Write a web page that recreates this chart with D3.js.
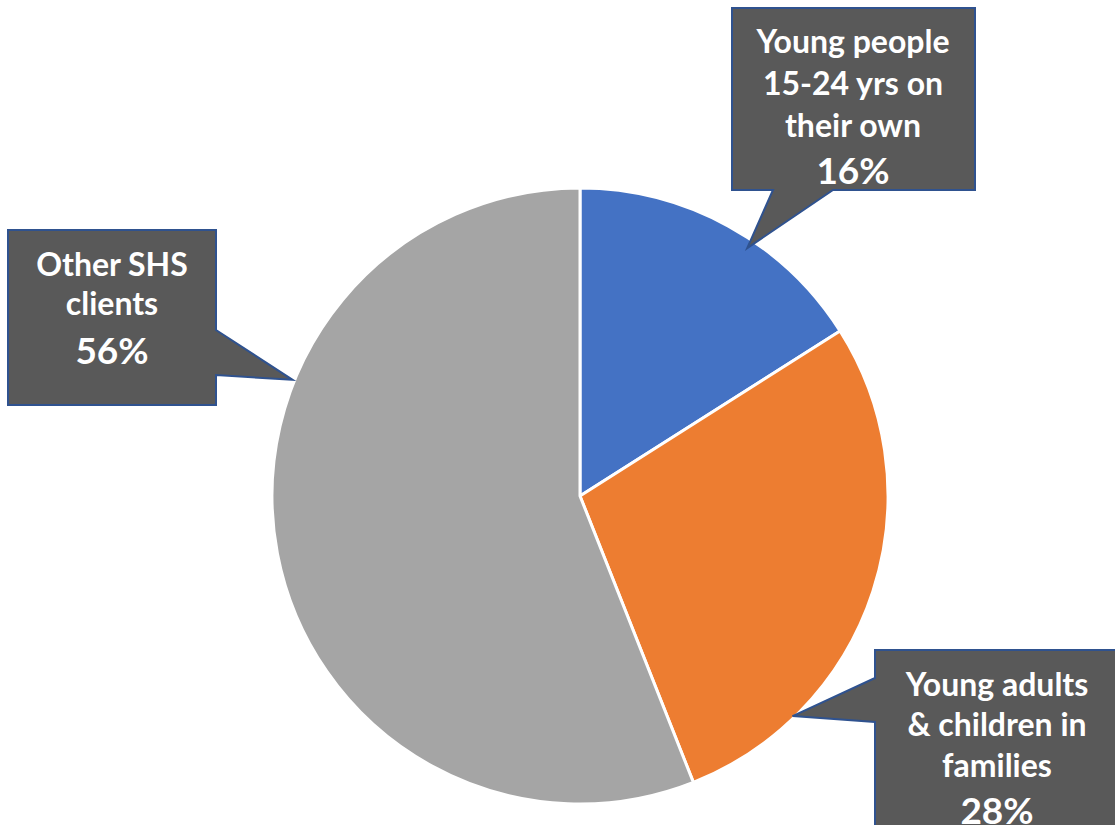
<!DOCTYPE html>
<html>
<head>
<meta charset="utf-8">
<script src="https://cdn.jsdelivr.net/npm/d3@7"></script>
<style>
  html, body { margin: 0; padding: 0; background: #fff; overflow: hidden; }
  svg text { font-family: Lato, "Open Sans", sans-serif; font-weight: 700; fill: #fff; }
</style>
</head>
<body>
<div id="chartContainer"></div>
<script>
// data
var categories  = ['Young people 15-24 yrs on their own', 'Young adults & children in families', 'Other SHS clients'],
    values      = [16, 28, 56],
    labelLines  = [['Young people', '15-24 yrs on', 'their own'],
                   ['Young adults', '& children in', 'families'],
                   ['Other SHS', 'clients']],
    colors      = ['#4472C4', '#ED7D31', '#A5A5A5'];

var width  = 1115,
    height = 825,
    cx     = 580,
    cy     = 496,
    radius = 308;

// callout boxes: x, y, w, h, pointer base side + base range, tip angle (deg) on the pie edge
var callouts = [
    { x: 732, y: 8,   w: 243, h: 182, side: 'bottom', b0: 773, b1: 833, tipAngle: 34,  tipR: 299, tx: 853, ty: [53, 95, 137], py: 184 },
    { x: 875, y: 650, w: 250, h: 185, side: 'left',   b0: 678, b1: 722, tipAngle: 136, tipR: 306, tx: 997, ty: [696, 736, 777], py: 824 },
    { x: 8,   y: 230, w: 208, h: 175, side: 'right',  b0: 330, b1: 375, tipAngle: 292, tipR: 310, tx: 112, ty: [276, 315], py: 364 }
];

var svg = d3.select('#chartContainer').append('svg')
    .attr('width', width)
    .attr('height', height);

var pie = d3.pie().sort(null).value(function(d) { return d; }),
    arc = d3.arc().innerRadius(0).outerRadius(radius),
    arcs = pie(values);

var g = svg.append('g').attr('transform', 'translate(' + cx + ',' + cy + ')');

g.selectAll('path.slice')
    .data(arcs)
    .enter()
    .append('path')
    .attr('class', 'slice')
    .attr('d', arc)
    .style('fill', function(d, i) { return colors[i]; })
    .style('stroke', '#fff')
    .style('stroke-width', 3)
    .style('stroke-linejoin', 'round');

// callouts
callouts.forEach(function(c, i) {
    var a = c.tipAngle * Math.PI / 180,
        tip = [cx + c.tipR * Math.sin(a), cy - c.tipR * Math.cos(a)],
        x0 = c.x, y0 = c.y, x1 = c.x + c.w, y1 = c.y + c.h,
        pts;

    if (c.side === 'bottom') {
        pts = [[x0, y0], [x1, y0], [x1, y1], [c.b1, y1], tip, [c.b0, y1], [x0, y1]];
    } else if (c.side === 'left') {
        pts = [[x0, y0], [x1, y0], [x1, y1], [x0, y1], [x0, c.b1], tip, [x0, c.b0]];
    } else {
        pts = [[x0, y0], [x1, y0], [x1, c.b0], tip, [x1, c.b1], [x1, y1], [x0, y1]];
    }

    svg.append('path')
        .attr('d', d3.line()(pts) + 'Z')
        .style('fill', '#595959')
        .style('stroke', '#2F528F')
        .style('stroke-width', 2)
        .style('stroke-linejoin', 'miter');

    svg.selectAll(null)
        .data(labelLines[i])
        .enter()
        .append('text')
        .attr('x', c.tx)
        .attr('y', function(d, j) { return c.ty[j]; })
        .attr('text-anchor', 'middle')
        .style('font-size', '32px')
        .text(function(d) { return d; });

    svg.append('text')
        .attr('x', c.tx)
        .attr('y', c.py)
        .attr('text-anchor', 'middle')
        .style('font-size', '37px')
        .text(values[i] + '%');
});
</script>
</body>
</html>
